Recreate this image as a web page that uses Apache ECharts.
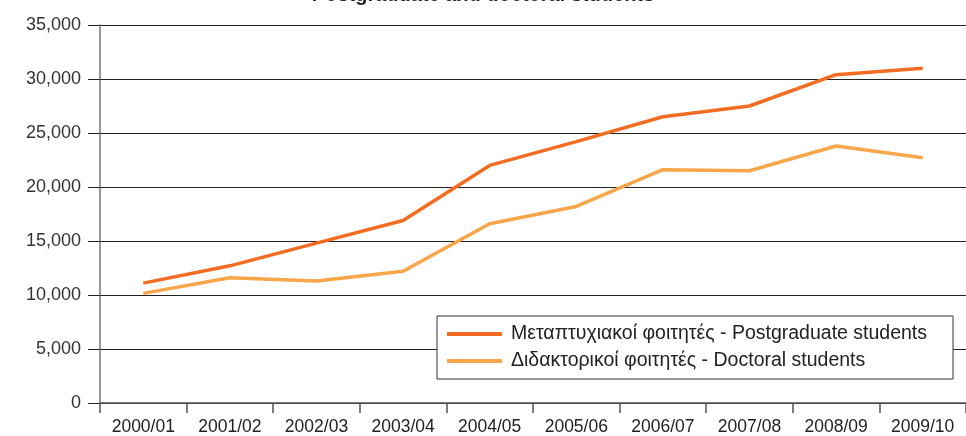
<!DOCTYPE html>
<html><head><meta charset="utf-8">
<script src="https://cdn.jsdelivr.net/npm/echarts@6/dist/echarts.min.js"></script>
<style>html,body{margin:0;padding:0;background:#fff}#c{width:966px;height:436px}</style>
</head><body><div id="c"></div>
<script>
const categories = ['2000/01','2001/02','2002/03','2003/04','2004/05','2005/06','2006/07','2007/08','2008/09','2009/10'];
const postgraduate = [11100,12700,14800,16900,22000,24200,26500,27500,30400,31000];
const doctoral = [10150,11600,11300,12200,16600,18200,21600,21500,23800,22700];
const seriesNames = ['Μεταπτυχιακοί φοιτητές - Postgraduate students','Διδακτορικοί φοιτητές - Doctoral students'];
const titleText = 'Postgraduate and doctoral students';

const font = '"Liberation Sans", Arial, Helvetica, sans-serif';
const chart = echarts.init(document.getElementById('c'), null, {renderer:'canvas'});
chart.setOption({
  animation:false,
  title:{text:titleText,left:'center',top:-20,textStyle:{fontFamily:font,fontSize:20,fontWeight:'bold',color:'#222'}},
  grid:{left:100,right:-4,top:25,bottom:33,containLabel:false},
  legend:{
    orient:'vertical',left:437,top:316,
    backgroundColor:'#fff',borderColor:'#333',borderWidth:1,
    padding:[8,26,8,10],itemGap:7,itemWidth:55,itemHeight:4,icon:'rect',
    textStyle:{fontFamily:font,fontSize:19.5,color:'#222',padding:[0,0,0,4]},
    data:seriesNames
  },
  xAxis:{
    type:'category',data:categories,boundaryGap:true,
    axisLine:{lineStyle:{color:'#555',width:1.5}},
    axisTick:{show:true,length:10,lineStyle:{color:'#555',width:1.5}},
    axisLabel:{fontFamily:font,fontSize:17.5,color:'#222',margin:15}
  },
  yAxis:{
    type:'value',min:0,max:35000,interval:5000,
    axisLine:{show:true,lineStyle:{color:'#777',width:1.5}},
    axisTick:{show:true,length:12,lineStyle:{color:'#222',width:1}},
    axisLabel:{fontFamily:font,fontSize:18,color:'#333',margin:19,formatter:v=>v.toLocaleString('en-US')},
    splitLine:{show:true,lineStyle:{color:'#222',width:1}}
  },
  series:[
    {name:seriesNames[0],type:'line',data:postgraduate,symbol:'none',lineStyle:{color:'#f26d21',width:3.5},itemStyle:{color:'#f26d21'}},
    {name:seriesNames[1],type:'line',data:doctoral,symbol:'none',lineStyle:{color:'#f9a64a',width:3.5},itemStyle:{color:'#f9a64a'}}
  ]
});
</script></body></html>
